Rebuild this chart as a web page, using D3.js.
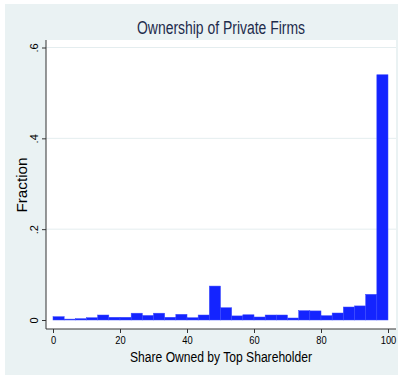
<!DOCTYPE html>
<html><head><meta charset="utf-8">
<script src="https://cdn.jsdelivr.net/npm/d3@7"></script>
<style>body{margin:0;background:#fff}svg{display:block}text{font-family:"Liberation Sans",Arial,sans-serif}</style>
</head><body>
<script>
const binStart = 0, binWidth = 100/30;
const fractions = [0.0073,0.002,0.003,0.005,0.011,0.006,0.006,0.015,0.010,0.015,
  0.006,0.0125,0.005,0.011,0.0747,0.027,0.009,0.0115,0.0066,0.011,
  0.011,0.0044,0.0205,0.020,0.0095,0.0154,0.0286,0.031,0.0565,0.54];
const xTicks = [0,20,40,60,80,100];
const yTicks = [0,0.2,0.4,0.6];
const yTickLabels = ["0",".2",".4",".6"];
const title = "Ownership of Private Firms";
const xTitle = "Share Owned by Top Shareholder";
const yTitle = "Fraction";

const W=401,H=381;
const svg=d3.select("body").append("svg").attr("width",W).attr("height",H);
svg.append("rect").attr("x",5).attr("y",4).attr("width",393).attr("height",371).attr("fill","#eaf2f3");
const L=46,R=396,T=40,B=329;
const x=d3.scaleLinear().domain([0,100]).range([53,388]);
const y=d3.scaleLinear().domain([0,0.6]).range([320,47.5]);
svg.append("rect").attr("x",L).attr("y",T).attr("width",R-L).attr("height",B-T).attr("fill","#fff");
// gridlines
svg.append("g").selectAll("line").data(yTicks.slice(1)).join("line")
  .attr("x1",L).attr("x2",R).attr("y1",d=>y(d)).attr("y2",d=>y(d))
  .attr("stroke","#e4edef").attr("stroke-width",1);
// bars
svg.append("g").selectAll("rect").data(fractions).join("rect")
  .attr("x",(d,i)=>x(binStart+i*binWidth))
  .attr("width",(d,i)=>x(binStart+(i+1)*binWidth)-x(binStart+i*binWidth))
  .attr("y",d=>y(d)).attr("height",d=>y(0)-y(d))
  .attr("fill","#1424ff").attr("stroke","#3a48ff").attr("stroke-width",0.5);
// x axis
const xa=svg.append("g").attr("transform",`translate(0,${B})`)
  .call(d3.axisBottom(x).tickValues(xTicks).tickSize(4).tickPadding(3).tickFormat(d3.format("d")));
xa.select(".domain").attr("d",`M${L},0H${R}`).attr("stroke","#333");
xa.selectAll(".tick line").attr("stroke","#333");
xa.selectAll("text").attr("font-size",11).attr("fill","#000").attr("transform","scale(0.88,1)")
  .attr("x",function(d){return x(d)*(1/0.88-1)*0+0;});
xa.selectAll(".tick").each(function(d){
  d3.select(this).select("text").attr("transform",null).attr("textLength",String(d).length*5.2).attr("lengthAdjust","spacingAndGlyphs");
});
// y axis
const ya=svg.append("g").attr("transform",`translate(${L},0)`)
  .call(d3.axisLeft(y).tickValues(yTicks).tickSize(4).tickFormat((d,i)=>yTickLabels[i]));
ya.select(".domain").attr("d",`M0,${T}V${B}`).attr("stroke","#333");
ya.selectAll(".tick line").attr("stroke","#333");
ya.selectAll(".tick text").attr("font-size",11).attr("fill","#000")
  .attr("x",null).attr("dy",null).attr("text-anchor","middle")
  .attr("transform","translate(-8,0) rotate(-90)");
// titles
svg.append("text").attr("x",221).attr("y",34).attr("text-anchor","middle")
  .attr("font-size",18).attr("fill","#1e2c4c").attr("textLength",168).attr("lengthAdjust","spacingAndGlyphs").text(title);
svg.append("text").attr("x",221).attr("y",362).attr("text-anchor","middle")
  .attr("font-size",14).attr("fill","#000").attr("textLength",182).attr("lengthAdjust","spacingAndGlyphs").text(xTitle);
svg.append("text").attr("transform","translate(27,185) rotate(-90)").attr("text-anchor","middle")
  .attr("font-size",14).attr("fill","#000").attr("textLength",55).attr("lengthAdjust","spacingAndGlyphs").text(yTitle);
</script>
</body></html>
